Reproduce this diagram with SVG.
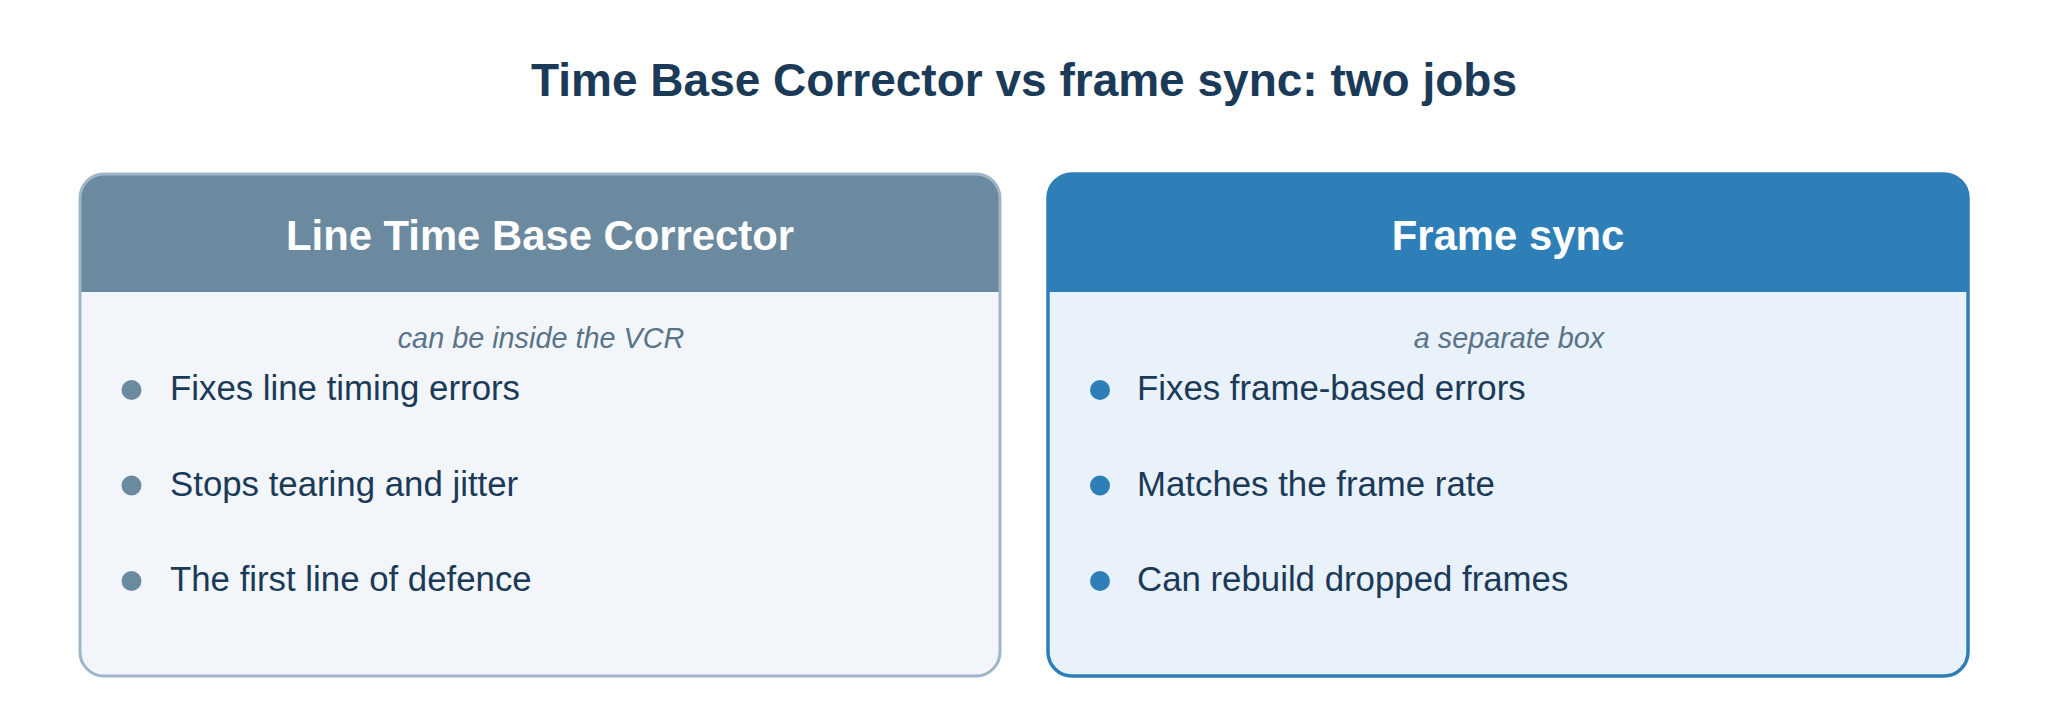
<svg xmlns="http://www.w3.org/2000/svg" width="2048" height="728" viewBox="0 0 2048 728">
  <style>
    .title { font-family: "Liberation Sans", Arial, sans-serif; font-weight: bold; font-size: 46px; fill: #1b3a57; text-anchor: middle; }
    .head { font-family: "Liberation Sans", Arial, sans-serif; font-weight: bold; font-size: 41.8px; fill: #ffffff; text-anchor: middle; }
    .sub { font-family: "Liberation Sans", Arial, sans-serif; font-style: italic; font-size: 28.8px; fill: #5a7388; text-anchor: middle; }
    .item { font-family: "Liberation Sans", Arial, sans-serif; font-size: 34.8px; fill: #1b3a57; }
    .cardA-body { fill: #f2f6fb; }
    .cardA-head { fill: #6b8a9f; }
    .cardA-border { fill: none; stroke: #9fb5c8; stroke-width: 3; }
    .dotA { fill: #6b8a9f; }
    .cardB-body { fill: #e9f1fa; }
    .cardB-head { fill: #2e7fb8; }
    .cardB-border { fill: none; stroke: #2e7fb8; stroke-width: 3.5; }
    .dotB { fill: #2e7fb8; }
  </style>
  <rect width="2048" height="728" fill="#ffffff"/>
  <text class="title" x="1024" y="96">Time Base Corrector vs frame sync: two jobs</text>

  <g id="card-tbc">
    <rect class="cardA-body" x="80" y="174" width="920" height="502" rx="24"/>
    <path class="cardA-head" d="M80,292 V198 A24,24 0 0 1 104,174 H976 A24,24 0 0 1 1000,198 V292 Z"/>
    <rect class="cardA-border" x="80" y="174" width="920" height="502" rx="24"/>
    <text class="head" x="540" y="250">Line Time Base Corrector</text>
    <text class="sub" x="541" y="348">can be inside the VCR</text>
    <circle class="dotA" cx="131.5" cy="390" r="10"/>
    <text class="item" x="170" y="400">Fixes line timing errors</text>
    <circle class="dotA" cx="131.5" cy="485.5" r="10"/>
    <text class="item" x="170" y="495.5">Stops tearing and jitter</text>
    <circle class="dotA" cx="131.5" cy="581" r="10"/>
    <text class="item" x="170" y="591">The first line of defence</text>
  </g>

  <g id="card-framesync">
    <rect class="cardB-body" x="1048" y="174" width="920" height="502" rx="24"/>
    <path class="cardB-head" d="M1048,292 V198 A24,24 0 0 1 1072,174 H1944 A24,24 0 0 1 1968,198 V292 Z"/>
    <rect class="cardB-border" x="1048" y="174" width="920" height="502" rx="24"/>
    <text class="head" x="1508" y="250">Frame sync</text>
    <text class="sub" x="1509" y="348">a separate box</text>
    <circle class="dotB" cx="1100" cy="390" r="10"/>
    <text class="item" x="1137" y="400">Fixes frame-based errors</text>
    <circle class="dotB" cx="1100" cy="485.5" r="10"/>
    <text class="item" x="1137" y="495.5">Matches the frame rate</text>
    <circle class="dotB" cx="1100" cy="581" r="10"/>
    <text class="item" x="1137" y="591">Can rebuild dropped frames</text>
  </g>

  <g id="connectors"></g>
</svg>
